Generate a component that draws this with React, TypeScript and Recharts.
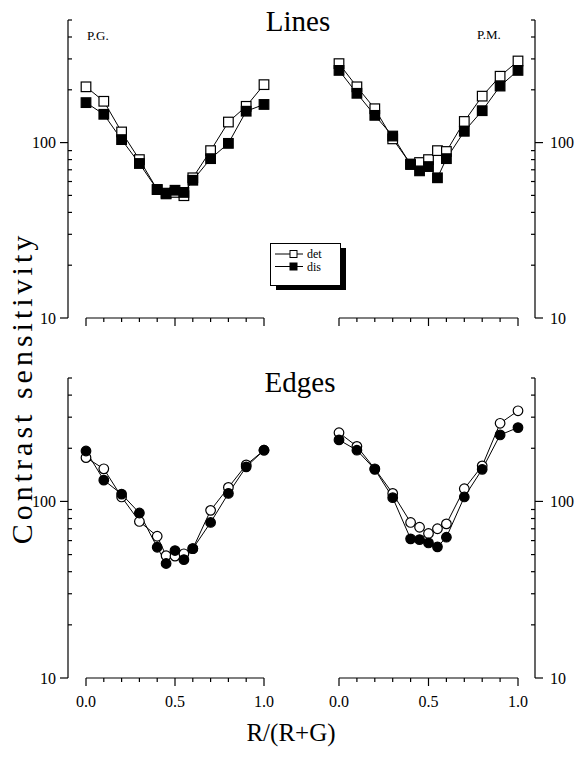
import React from 'react';
import { LineChart, Line, XAxis, YAxis, ReferenceLine, Legend } from 'recharts';

const xValues = [0, 0.1, 0.2, 0.3, 0.4, 0.45, 0.5, 0.55, 0.6, 0.7, 0.8, 0.9, 1.0];

const linesPGdet = [208, 172, 115, 80, 54, 51.5, 52, 49.8, 63, 90, 131, 161, 214];
const linesPGdis = [169, 145, 104, 76, 54, 51, 53.5, 52, 61, 81, 99, 151, 165];
const linesPMdet = [282, 208, 156, 105, 75.5, 77, 80, 90, 89, 132, 184, 239, 292];
const linesPMdis = [258, 191, 143, 109, 75, 69, 73, 63, 81, 116, 152, 210, 258];
const edgesPGdet = [177, 153, 106, 77, 63.5, 49.3, 49, 50.5, 54, 89, 120, 161, 195];
const edgesPGdis = [193, 132, 110, 86, 55, 44.5, 52.7, 46.8, 54, 76, 111, 157, 195];
const edgesPMdet = [245, 205, 153, 111, 76, 71.4, 65.8, 70, 74.6, 118, 159, 277, 326];
const edgesPMdis = [223, 195, 152, 105, 61.4, 60.8, 58.2, 55.3, 62.7, 106, 152, 238, 262];

const yTicks = [10, 20, 30, 40, 50, 60, 70, 80, 90, 100, 200, 300, 400, 500];
const yMajor = [10, 100];
const xTicks = [0, 0.1, 0.2, 0.3, 0.4, 0.5, 0.6, 0.7, 0.8, 0.9, 1];
const xMajor = [0, 0.5, 1];
const seriesNames = ['det', 'dis'];

const FONT = '"Liberation Serif", "Times New Roman", "DejaVu Serif", serif';

function makeYTick(side: 'left' | 'right') {
  return (props: any) => {
    const { x, y, payload } = props;
    const v = payload.value;
    const major = yMajor.includes(v);
    const dir = side === 'left' ? -1 : 1;
    const x2 = major ? x + dir * 8 : x - dir * 4;
    return (
      <g>
        <line x1={x} y1={y} x2={x2} y2={y} stroke="#000" strokeWidth={1.2} />
        {major && (
          <text
            x={x + dir * (side === 'left' ? 12 : 15)}
            y={y}
            dy="0.35em"
            textAnchor={side === 'left' ? 'end' : 'start'}
            fontFamily={FONT}
            fontSize={16}
            fill="#000"
          >
            {v}
          </text>
        )}
      </g>
    );
  };
}

function makeXTick(showLabel: boolean) {
  return (props: any) => {
    const { x, y, payload } = props;
    const v = payload.value;
    const major = xMajor.includes(v);
    return (
      <g>
        <line x1={x} y1={y} x2={x} y2={y + (major ? 8 : 4)} stroke="#000" strokeWidth={1.2} />
        {showLabel && major && (
          <text x={x} y={y + 29} textAnchor="middle" fontFamily={FONT} fontSize={16} fill="#000">
            {Number(v).toFixed(1)}
          </text>
        )}
      </g>
    );
  };
}

const squareDot = (filled: boolean) => (p: any) => {
  const { cx, cy, index } = p;
  if (cx == null || cy == null) return <g key={`s${index}`} />;
  return (
    <rect
      key={`s${index}`}
      x={cx - 4.8}
      y={cy - 4.8}
      width={9.6}
      height={9.6}
      fill={filled ? '#000' : '#fff'}
      stroke="#000"
      strokeWidth={1.2}
    />
  );
};

const circleDot = (filled: boolean) => (p: any) => {
  const { cx, cy, index } = p;
  if (cx == null || cy == null) return <g key={`c${index}`} />;
  return (
    <circle
      key={`c${index}`}
      cx={cx}
      cy={cy}
      r={4.8}
      fill={filled ? '#000' : '#fff'}
      stroke="#000"
      strokeWidth={1.2}
    />
  );
};

const LegendBox = (props: any) => {
  const payload = props.payload || [];
  return (
    <svg width={80} height={52} style={{ display: 'block', overflow: 'visible' }}>
      <rect x={6} y={5} width={70} height={42} fill="#000" />
      <rect x={0.5} y={0.5} width={70} height={42} fill="#fff" stroke="#000" strokeWidth={1} />
      {payload.map((item: any, i: number) => {
        const cy = 11 + i * 12.5;
        const filled = item.value === 'dis';
        return (
          <g key={item.value}>
            <line x1={5} y1={cy} x2={33} y2={cy} stroke="#000" strokeWidth={1} />
            <rect x={20} y={cy - 3.5} width={7} height={7} fill={filled ? '#000' : '#fff'} stroke="#000" strokeWidth={1} />
            <text x={37} y={cy} dy="0.35em" fontFamily={FONT} fontSize={12} fill="#000">
              {item.value}
            </text>
          </g>
        );
      })}
    </svg>
  );
};

type PanelProps = {
  left: number;
  top: number;
  width: number;
  height: number;
  margin: { top: number; right: number; bottom: number; left: number };
  side: 'left' | 'right';
  det: number[];
  dis: number[];
  shape: (filled: boolean) => (p: any) => any;
  showXLabels: boolean;
  xPadding: { left: number; right: number };
  xHeight: number;
  children?: React.ReactNode;
};

function Panel(p: PanelProps) {
  const data = xValues.map((x, i) => ({ x, det: p.det[i], dis: p.dis[i] }));
  return (
    <div style={{ position: 'absolute', left: p.left, top: p.top }}>
      <LineChart width={p.width} height={p.height} data={data} margin={p.margin}>
        <XAxis
          dataKey="x"
          type="number"
          domain={[0, 1]}
          ticks={xTicks}
          interval={0}
          tickSize={0}
          tickMargin={0}
          tickLine={false}
          axisLine={false}
          height={p.xHeight}
          padding={p.xPadding}
          tick={makeXTick(p.showXLabels)}
        />
        <YAxis
          type="number"
          scale="log"
          domain={[10, 500]}
          ticks={yTicks}
          interval={0}
          orientation={p.side}
          width={p.side === 'left' ? 61 : 41}
          tickSize={0}
          tickMargin={0}
          tickLine={false}
          axisLine={{ stroke: '#000', strokeWidth: 1.2 }}
          tick={makeYTick(p.side)}
        />
        <ReferenceLine
          segment={[{ x: 0, y: 10 }, { x: 1, y: 10 }]}
          stroke="#000"
          strokeWidth={1.2}
          ifOverflow="visible"
        />
        <Line
          dataKey="det"
          name={seriesNames[0]}
          stroke="#000"
          strokeWidth={1}
          dot={p.shape(false)}
          activeDot={false}
          isAnimationActive={false}
        />
        <Line
          dataKey="dis"
          name={seriesNames[1]}
          stroke="#000"
          strokeWidth={1}
          dot={p.shape(true)}
          activeDot={false}
          isAnimationActive={false}
        />
        {p.children}
      </LineChart>
    </div>
  );
}

export default function App() {
  return (
    <div style={{ position: 'absolute', left: 0, top: 0, width: 576, height: 762, background: '#fff' }}>
      <Panel
        left={0}
        top={0}
        width={300}
        height={360}
        margin={{ top: 20, right: 36, bottom: 12, left: 7 }}
        side="left"
        det={linesPGdet}
        dis={linesPGdis}
        shape={squareDot}
        showXLabels={false}
        xPadding={{ left: 18, right: 0 }}
        xHeight={30}
      >
        <Legend
          layout="horizontal"
          verticalAlign="middle"
          align="center"
          wrapperStyle={{ left: 270, top: 243, width: 80, height: 52 }}
          content={LegendBox}
        />
      </Panel>
      <Panel
        left={300}
        top={0}
        width={276}
        height={360}
        margin={{ top: 20, right: 0, bottom: 12, left: 39 }}
        side="right"
        det={linesPMdet}
        dis={linesPMdis}
        shape={squareDot}
        showXLabels={false}
        xPadding={{ left: 0, right: 17 }}
        xHeight={30}
      />
      <Panel
        left={0}
        top={340}
        width={300}
        height={380}
        margin={{ top: 38, right: 36, bottom: 2, left: 7 }}
        side="left"
        det={edgesPGdet}
        dis={edgesPGdis}
        shape={circleDot}
        showXLabels={true}
        xPadding={{ left: 18, right: 0 }}
        xHeight={40}
      />
      <Panel
        left={300}
        top={340}
        width={276}
        height={380}
        margin={{ top: 38, right: 0, bottom: 2, left: 39 }}
        side="right"
        det={edgesPMdet}
        dis={edgesPMdis}
        shape={circleDot}
        showXLabels={true}
        xPadding={{ left: 0, right: 17 }}
        xHeight={40}
      />
      <svg
        width={576}
        height={762}
        style={{ position: 'absolute', left: 0, top: 0, pointerEvents: 'none' }}
      >
        <text x={298} y={31} textAnchor="middle" fontFamily={FONT} fontSize={29} fill="#000">Lines</text>
        <text x={300} y={392} textAnchor="middle" fontFamily={FONT} fontSize={29} fill="#000">Edges</text>
        <text x={87} y={40} fontFamily={FONT} fontSize={13} fill="#000">P.G.</text>
        <text x={477} y={39} fontFamily={FONT} fontSize={13} fill="#000">P.M.</text>
        <text
          transform="translate(32,388) rotate(-90)"
          textAnchor="middle"
          fontFamily={FONT}
          fontSize={30}
          letterSpacing={4}
          fill="#000"
        >
          Contrast sensitivity
        </text>
        <text x={291} y={741} textAnchor="middle" fontFamily={FONT} fontSize={25} fill="#000">R/(R+G)</text>
      </svg>
    </div>
  );
}
